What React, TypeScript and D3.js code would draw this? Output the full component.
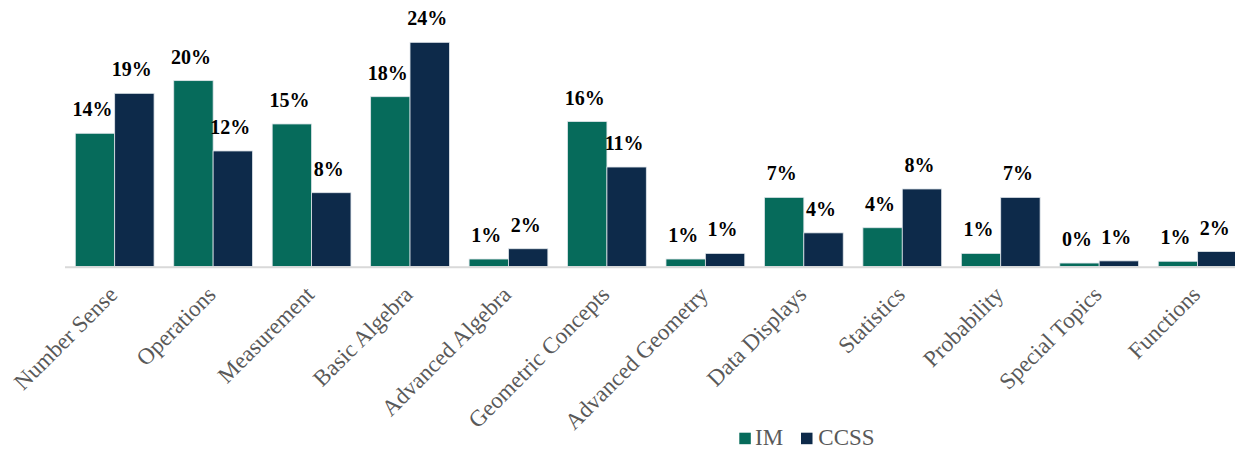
import React from "react";
import * as d3 from "d3";

const categories = [
  "Number Sense",
  "Operations",
  "Measurement",
  "Basic Algebra",
  "Advanced Algebra",
  "Geometric Concepts",
  "Advanced Geometry",
  "Data Displays",
  "Statistics",
  "Probability",
  "Special Topics",
  "Functions",
];
const seriesNames = ["IM", "CCSS"];
const imValues = [0.1426, 0.199, 0.1526, 0.1818, 0.008, 0.1552, 0.008, 0.074, 0.0415, 0.014, 0.0037, 0.0056];
const ccssValues = [0.1854, 0.1237, 0.079, 0.24, 0.019, 0.1065, 0.014, 0.036, 0.083, 0.074, 0.006, 0.016];
const colors = ["#066B5B", "#0D2A4A"];

const W = 1235;
const H = 449;
const SERIF = "Liberation Serif";

export default function App() {
  const x0 = d3
    .scaleBand<string>()
    .domain(categories)
    .range([65.45, 1246.85])
    .paddingInner(0.2)
    .paddingOuter(0.1);
  const x1 = d3.scaleBand<string>().domain(seriesNames).range([0, x0.bandwidth()]);
  const y = d3.scaleLinear().domain([0, 0.25]).range([266.5, 33]);
  const fmt = d3.format(".0%");
  const series = [imValues, ccssValues];
  const base = y(0);

  return (
    <svg
      width={W}
      height={H}
      style={{ position: "absolute", left: 0, top: 0, background: "#fff" }}
    >
      <rect x={0} y={0} width={W} height={H} fill="#fff" />
      {categories.map((c, i) => (
        <g key={c}>
          {seriesNames.map((s, j) => {
            const v = series[j][i];
            const bx = (x0(c) ?? 0) + (x1(s) ?? 0);
            const bw = x1.bandwidth();
            const top = y(v);
            return (
              <g key={s}>
                <rect
                  x={bx}
                  y={top}
                  width={bw}
                  height={base - top}
                  fill={colors[j]}
                  stroke="#dfe5ea"
                  strokeWidth={0.8}
                />
                <text
                  x={bx + bw / 2 - 2.5}
                  y={top - 17}
                  textAnchor="middle"
                  style={{ fontFamily: SERIF, fontWeight: 700, fontSize: "20px" }}
                  fill="#000"
                >
                  {fmt(v)}
                </text>
              </g>
            );
          })}
        </g>
      ))}
      <line x1={65} x2={W} y1={267.3} y2={267.3} stroke="#d9d9d9" strokeWidth={2} />
      {categories.map((c) => {
        const cx = (x0(c) ?? 0) + x0.bandwidth() / 2 + 4;
        const cy = 296;
        return (
          <text
            key={c}
            transform={`translate(${cx},${cy}) rotate(-45)`}
            textAnchor="end"
            style={{ fontFamily: SERIF, fontSize: "23px" }}
            fill="#595959"
          >
            {c}
          </text>
        );
      })}
      <g>
        <rect x={739.3} y={432.7} width={11.5} height={11.5} fill={colors[0]} />
        <text x={755} y={445} style={{ fontFamily: SERIF, fontSize: "23px" }} fill="#595959">
          {seriesNames[0]}
        </text>
        <rect x={801} y={432.7} width={11.5} height={11.5} fill={colors[1]} />
        <text x={818.3} y={445} style={{ fontFamily: SERIF, fontSize: "23px" }} fill="#595959">
          {seriesNames[1]}
        </text>
      </g>
    </svg>
  );
}
